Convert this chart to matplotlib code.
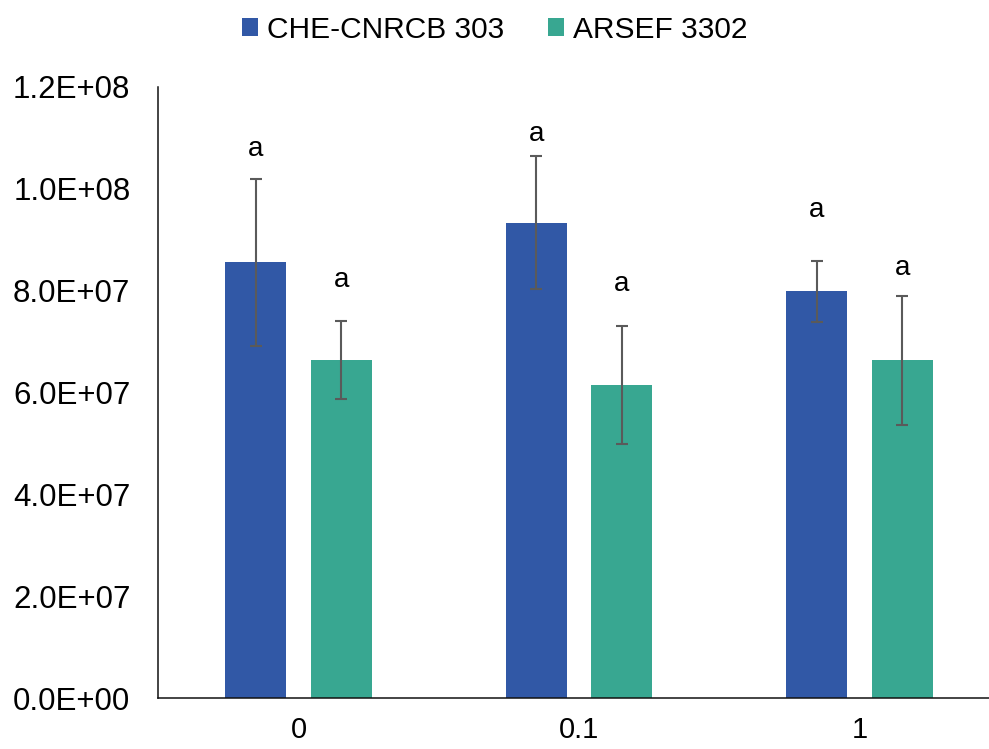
import matplotlib
matplotlib.use("Agg")
import matplotlib.pyplot as plt
import numpy as np
from matplotlib.ticker import FuncFormatter

# data
doses = ["0", "0.1", "1"]
series = ["CHE-CNRCB 303", "ARSEF 3302"]
che_vals = [8.55e7, 9.33e7, 7.98e7]
che_err = [1.64e7, 1.30e7, 6.05e6]
arsef_vals = [6.64e7, 6.15e7, 6.63e7]
arsef_err = [7.6e6, 1.16e7, 1.26e7]
che_letters = ["a", "a", "a"]
arsef_letters = ["a", "a", "a"]
che_letter_y = [1.064e8, 1.094e8, 9.44e7]
arsef_letter_y = [8.07e7, 7.99e7, 8.31e7]

colors = ["#3158a6", "#38a791"]
err_color = "#5a5a5a"

plt.rcParams['font.family'] = ['Liberation Sans', 'DejaVu Sans']

fig = plt.figure(figsize=(9.89, 7.49), dpi=100)
ax = fig.add_axes([0.16, 0.0677, 0.851, 0.8168])

x = np.arange(len(doses))
width = 0.217
offset = 0.1525

ekw = dict(ecolor=err_color, elinewidth=1.5, capsize=4.5, capthick=1.5)
ax.bar(x - offset, che_vals, width, color=colors[0], label=series[0],
       yerr=che_err, error_kw=ekw, zorder=2)
ax.bar(x + offset, arsef_vals, width, color=colors[1], label=series[1],
       yerr=arsef_err, error_kw=ekw, zorder=2)

# significance letters
for i in range(len(doses)):
    ax.text(x[i] - offset, che_letter_y[i], che_letters[i], ha='center',
            va='baseline', fontsize=20)
    ax.text(x[i] + offset, arsef_letter_y[i], arsef_letters[i], ha='center',
            va='baseline', fontsize=20)

ax.set_xlim(-0.5, 2.5)
ax.set_ylim(0, 1.2e8)
ax.set_yticks(np.arange(0, 1.21e8, 2e7))
ax.yaxis.set_major_formatter(FuncFormatter(lambda v, p: "%.1E" % v))
ax.set_xticks(x)
ax.set_xticklabels(doses)

for s in ['top', 'right']:
    ax.spines[s].set_visible(False)
for s in ['left', 'bottom']:
    ax.spines[s].set_linewidth(1.1)
    ax.spines[s].set_color('#111111')

ax.tick_params(axis='y', length=0, pad=20, labelsize=22.5)
ax.tick_params(axis='x', length=0, pad=13, labelsize=21)

fig.legend(loc='center', bbox_to_anchor=(0.5, 1 - 30 / 749), ncol=2,
           frameon=False, fontsize=21.5, handlelength=0.55, handleheight=0.55,
           handletextpad=0.3, columnspacing=1.45, borderaxespad=0)

fig.savefig('out.png', dpi=100)
